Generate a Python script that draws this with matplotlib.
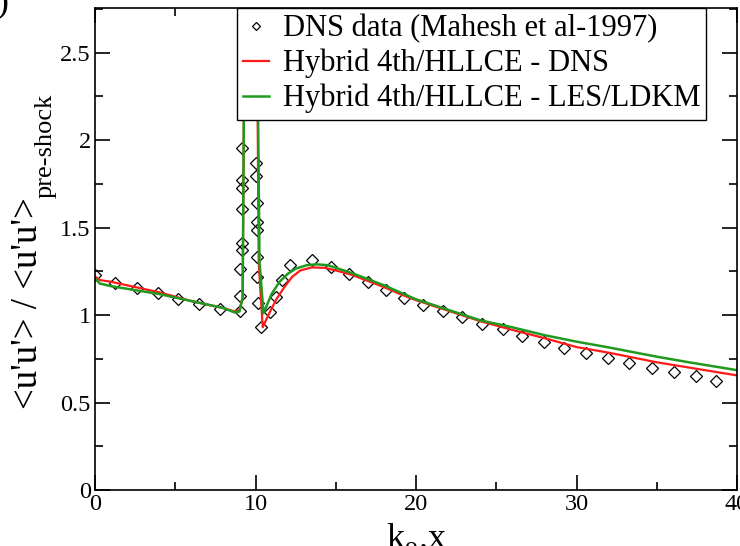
import matplotlib
matplotlib.use('Agg')
from matplotlib import pyplot as plt
from matplotlib.ticker import MultipleLocator

plt.rcParams['font.family'] = ['Liberation Serif', 'DejaVu Serif']
plt.rcParams['mathtext.fontset'] = 'custom'
plt.rcParams['mathtext.rm'] = 'Liberation Serif'

# DNS data (Mahesh et al-1997)
x_dns = [0, 1.25, 2.6, 3.9, 5.2, 6.5, 7.8, 9.03, 9.03, 9.03, 9.16, 9.16, 9.16, 9.16, 9.16, 9.16,
         10.03, 10.03, 10.09, 10.09, 10.09, 10.09, 10.09, 10.16, 10.34, 10.9, 11.28, 11.65, 12.15,
         13.5, 14.7, 15.83, 17.01, 18.13, 19.25, 20.44, 21.68, 22.87, 24.11, 25.42, 26.6, 27.98,
         29.22, 30.59, 31.96, 33.27, 34.7, 36.07, 37.45, 38.69]
y_dns = [1.229, 1.183, 1.154, 1.126, 1.091, 1.063, 1.034, 1.023, 1.109, 1.263, 1.371, 1.411, 1.606,
         1.726, 1.771, 1.954,
         1.869, 1.794, 1.64, 1.531, 1.486, 1.331, 1.217, 1.069, 0.931, 1.017, 1.103, 1.2, 1.286,
         1.315, 1.274, 1.234, 1.189, 1.143, 1.097, 1.057, 1.023, 0.989, 0.949, 0.92, 0.88, 0.846,
         0.811, 0.783, 0.754, 0.726, 0.697, 0.674, 0.651, 0.623]

# Hybrid 4th/HLLCE - DNS
x_red = [0, 0.3, 1, 2, 3, 4, 5, 6, 7, 8, 8.7, 9.0, 9.2, 9.35, 10.05, 10.2, 10.45, 10.8, 11.3,
         11.8, 12.3, 12.8, 13.5, 14.3, 15, 16, 17, 18, 19, 20, 22, 24, 25, 26, 28, 30, 32, 35,
         37, 40]
y_red = [1.22, 1.2, 1.19, 1.17, 1.15, 1.13, 1.105, 1.08, 1.06, 1.04, 1.02, 1.03, 1.1, 3.2, 3.2,
         1.3, 0.93, 1.0, 1.09, 1.16, 1.22, 1.255, 1.272, 1.27, 1.255, 1.23, 1.195, 1.16, 1.12,
         1.085, 1.025, 0.965, 0.94, 0.915, 0.868, 0.817, 0.785, 0.73, 0.7, 0.655]

# Hybrid 4th/HLLCE - LES/LDKM
x_grn = [0, 0.3, 1, 2, 3, 4, 5, 6, 7, 8, 8.7, 9.0, 9.2, 9.35, 10.05, 10.25, 10.5, 11.0, 11.5,
         12, 12.5, 13.2, 13.8, 14.5, 15, 16, 17, 18, 19, 20, 22, 24, 26, 28, 30, 32, 35, 37, 40]
y_grn = [1.21, 1.18, 1.165, 1.15, 1.135, 1.12, 1.1, 1.08, 1.06, 1.04, 1.015, 1.02, 1.1, 3.2, 3.2,
         1.3, 1.01, 1.12, 1.19, 1.235, 1.265, 1.285, 1.29, 1.285, 1.27, 1.24, 1.205, 1.17, 1.13,
         1.09, 1.03, 0.97, 0.93, 0.885, 0.848, 0.815, 0.762, 0.73, 0.685]

W, H = 740, 546
fig = plt.figure(figsize=(7.4, 5.46), dpi=100)
ax = fig.add_axes([95 / W, 1 - 490 / H, 642 / W, 482 / H])

ax.plot(x_dns, y_dns, 'D', ms=6.5, mfc='none', mec='black', mew=0.9,
        label='DNS data (Mahesh et al-1997)')
ax.plot(x_red, y_red, color='#ff1a1a', lw=1.6, label='Hybrid 4th/HLLCE - DNS')
ax.plot(x_grn, y_grn, color='#1f9a1f', lw=1.8, label='Hybrid 4th/HLLCE - LES/LDKM')

ax.set_xlim(0, 40)
ax.set_ylim(0, 2.755)
ax.xaxis.set_major_locator(MultipleLocator(10))
ax.xaxis.set_minor_locator(MultipleLocator(5))
ax.yaxis.set_major_locator(MultipleLocator(0.5))
ax.yaxis.set_minor_locator(MultipleLocator(0.25))
ax.tick_params(which='both', direction='in', top=True, right=True, labelsize=17.5, width=1.2)
ax.tick_params(which='major', length=11, pad=3)
ax.tick_params(which='minor', length=6)
ax.set_yticks([0, 0.5, 1, 1.5, 2, 2.5])
ax.set_yticklabels(['0', '0.5', '1', '1.5', '2', '2.5'])
for s in ax.spines.values():
    s.set_linewidth(1.2)

ax.set_xlabel(r'k$_\mathregular{o}$.x', fontsize=26, labelpad=4)

# y label: main part plus the "pre-shock" subscript
fig.text(28 / W, 1 - 303 / H, "<u'u'> / <u'u'>", fontsize=26.5, rotation=90,
         ha='center', va='center')
fig.text(46 / W, 1 - 198 / H, 'pre-shock', fontsize=19, rotation=90,
         ha='center', va='bottom')

leg = ax.legend(loc='upper right', bbox_to_anchor=(0.952, 1.0), borderaxespad=0,
                fontsize=22, handlelength=0.85, handletextpad=0.45, markerscale=0.6,
                fancybox=False, framealpha=1, edgecolor='black', borderpad=0.2,
                labelspacing=0.18)
leg.get_frame().set_linewidth(1.0)

fig.text(0.012, 1 - 4 / H, 'b)', fontsize=26, ha='right', va='center')

fig.savefig('out.png', dpi=100)
